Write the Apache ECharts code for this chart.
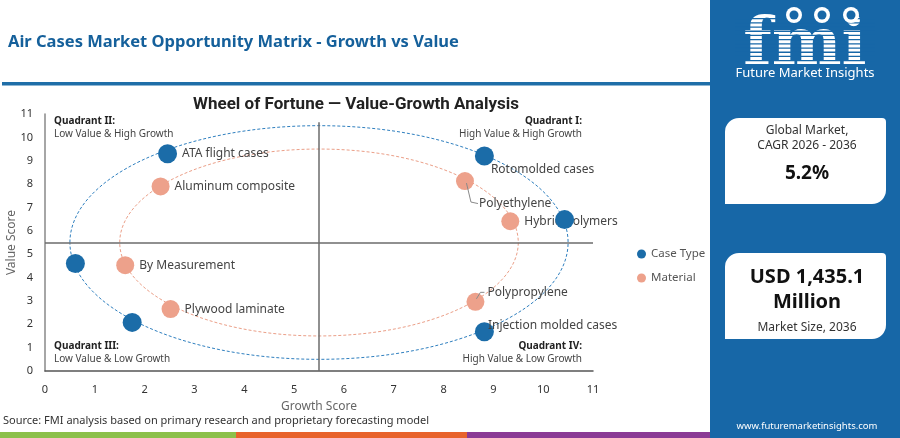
<!DOCTYPE html>
<html>
<head>
<meta charset="utf-8">
<script src="https://cdn.jsdelivr.net/npm/echarts@6/dist/echarts.min.js"></script>
<style>
html,body{margin:0;padding:0;background:#fff;}
#c{width:900px;height:438px;}
</style>
</head>
<body>
<div id="c"></div>
<script>
// ---- data ----
const caseTypeNames  = ['ATA flight cases', 'Rotomolded cases', 'Injection molded cases', '', '', ''];
const caseTypeGrowth = [2.46, 8.82, 8.82, 0.61, 1.75, 10.43];
const caseTypeValue  = [9.30, 9.20, 1.68, 4.60, 2.08, 6.48];

const materialNames  = ['Aluminum composite', 'By Measurement', 'Plywood laminate', 'Polyethylene', 'Hybrid polymers', 'Polypropylene'];
const materialGrowth = [2.32, 1.61, 2.52, 8.43, 9.34, 8.64];
const materialValue  = [7.90, 4.53, 2.65, 8.13, 6.41, 2.96];

const axisTicks = [0, 1, 2, 3, 4, 5, 6, 7, 8, 9, 10, 11];
const quadrantSplit = 5.5;
const ringCenter = [5.5, 5.5];
const ringRadius = { caseType: 5.0, material: 4.0 };

const cagrText = '5.2%';
const marketSizeText = ['USD 1,435.1', 'Million'];

// ---- styles / layout ----
const BLUE = '#1b6ca8';
const SALMON = '#eda18b';
const PANEL = '#1767a7';
const FONT = '"Noto Sans", "Open Sans", sans-serif';

// label nudges (pixels) for crowded labels
const labelShift = {
  'Rotomolded cases': { dx: -8, dy: 14 },
  'Injection molded cases': { dx: -11, dy: -6 },
  'Polyethylene': { dx: 0, dy: 23 },
  'Polypropylene': { dx: -2, dy: -9 }
};
// leader line shapes (pixel offsets from the point) for nudged labels
const leaderShape = {
  'Polyethylene': [[1.5, 2], [6, 21], [13, 22.5]],
  'Polypropylene': [[1, -3], [5, -9.5], [9, -9.5]]
};

function toData(names, gx, vy) {
  return names.map((n, i) => ({
    name: n,
    value: [gx[i], vy[i]],
    label: { show: n !== '' }
  }));
}

const chart = echarts.init(document.getElementById('c'), null, { renderer: 'canvas' });

const labelCommon = {
  show: true,
  position: 'right',
  distance: 5,
  formatter: '{b}',
  color: '#444',
  fontSize: 12,
  fontFamily: FONT
};
const shiftFn = function (p) { const s = labelShift[p.text]; return s ? { dx: s.dx, dy: s.dy } : {}; };

const option = {
  backgroundColor: '#fff',
  animation: false,
  grid: { left: 45, right: 307, top: 114, bottom: 67, containLabel: false, outerBoundsMode: 'none' },
  xAxis: {
    type: 'value', min: axisTicks[0], max: axisTicks[axisTicks.length - 1], interval: 1,
    name: 'Growth Score', nameLocation: 'middle', nameGap: 30, nameMoveOverlap: false,
    nameTextStyle: { color: '#666', fontSize: 12, fontFamily: FONT },
    axisLine: { show: true, lineStyle: { color: '#555', width: 1.5 } },
    axisTick: { show: false },
    splitLine: { show: false },
    axisLabel: { color: '#333', fontSize: 11, margin: 13, fontFamily: FONT }
  },
  yAxis: {
    type: 'value', min: axisTicks[0], max: axisTicks[axisTicks.length - 1], interval: 1,
    name: 'Value Score', nameLocation: 'middle', nameGap: 27, nameMoveOverlap: false,
    nameTextStyle: { color: '#666', fontSize: 12, fontFamily: FONT },
    axisLine: { show: true, lineStyle: { color: '#888', width: 1.5 } },
    axisTick: { show: false },
    splitLine: { show: false },
    axisLabel: { color: '#333', fontSize: 11, margin: 12, fontFamily: FONT }
  },
  legend: {
    orient: 'vertical', left: 632, top: 243, itemGap: 12,
    itemWidth: 9, itemHeight: 9, icon: 'circle',
    textStyle: { color: '#555', fontSize: 11.5, fontFamily: FONT },
    data: ['Case Type', 'Material']
  },
  series: [
    {
      name: 'Case Type', type: 'scatter', symbolSize: 19,
      itemStyle: { color: BLUE, opacity: 1 },
      data: toData(caseTypeNames, caseTypeGrowth, caseTypeValue),
      label: labelCommon,
      labelLayout: shiftFn,
      z: 4,
      markLine: {
        silent: true, symbol: 'none', animation: false,
        label: { show: false },
        lineStyle: { color: '#6b6b6b', width: 1.5, type: 'solid' },
        data: [
          [{ coord: [quadrantSplit, 0] }, { coord: [quadrantSplit, 10.65] }],
          [{ coord: [0, quadrantSplit] }, { coord: [11, quadrantSplit] }]
        ]
      }
    },
    {
      name: 'Material', type: 'scatter', symbolSize: 18,
      itemStyle: { color: SALMON, opacity: 1 },
      data: toData(materialNames, materialGrowth, materialValue),
      label: labelCommon,
      labelLayout: shiftFn,
      z: 3
    }
  ]
};
chart.setOption(option);

// ---- decorations ----
function ring(r, color) {
  const c = chart.convertToPixel({ gridIndex: 0 }, ringCenter);
  const e = chart.convertToPixel({ gridIndex: 0 }, [ringCenter[0] + r, ringCenter[1] + r]);
  return {
    type: 'ellipse', z: 1, silent: true,
    shape: { cx: c[0], cy: c[1], rx: Math.abs(e[0] - c[0]), ry: Math.abs(c[1] - e[1]) },
    style: { fill: 'none', stroke: color, lineWidth: 1, lineDash: [3, 2] }
  };
}

const g = [];
g.push(ring(ringRadius.caseType, '#2f7fbf'));
g.push(ring(ringRadius.material, '#eb9f88'));

// leader lines, anchored to the points through the chart's scales
materialNames.forEach((n, i) => {
  const sh = leaderShape[n];
  if (!sh) return;
  const p = chart.convertToPixel({ gridIndex: 0 }, [materialGrowth[i], materialValue[i]]);
  g.push({ type: 'polyline', z: 20, silent: true,
    shape: { points: sh.map(o => [p[0] + o[0], p[1] + o[1]]) },
    style: { stroke: '#8a8a8a', lineWidth: 1, fill: 'none' } });
});

// header
g.push({ type: 'text', left: 8, top: 34, z: 10, style: { text: 'Air Cases Market Opportunity Matrix - Growth vs Value', fill: '#15609b', font: 'bold 16.5px ' + FONT } });
g.push({ type: 'rect', shape: { x: 2, y: 82, width: 708, height: 3.5 }, style: { fill: '#1f6ea8' }, z: 10 });
g.push({ type: 'text', z: 10, style: { text: 'Wheel of Fortune \u2014 Value-Growth Analysis', x: 356, y: 105, align: 'center', verticalAlign: 'middle', fill: '#222', font: 'bold 17px Roboto, ' + FONT } });

// quadrant notes
function qtext(x, y, title, sub, align) {
  g.push({ type: 'text', z: 10, style: { text: title, x: x, y: y, align: align, verticalAlign: 'middle', fill: '#222', font: 'bold 10px ' + FONT } });
  g.push({ type: 'text', z: 10, style: { text: sub, x: x, y: y + 13, align: align, verticalAlign: 'middle', fill: '#444', font: '10px ' + FONT } });
}
qtext(54, 121, 'Quadrant II:', 'Low Value & High Growth', 'left');
qtext(582, 121, 'Quadrant I:', 'High Value & High Growth', 'right');
qtext(54, 346, 'Quadrant III:', 'Low Value & Low Growth', 'left');
qtext(582, 346, 'Quadrant IV:', 'High Value & Low Growth', 'right');

// source + color bar
g.push({ type: 'text', z: 10, style: { text: 'Source: FMI analysis based on primary research and proprietary forecasting model', x: 3, y: 421, verticalAlign: 'middle', fill: '#333', font: '11px ' + FONT } });
g.push({ type: 'rect', z: 10, shape: { x: 0, y: 432, width: 236, height: 6 }, style: { fill: '#8cc04b' } });
g.push({ type: 'rect', z: 10, shape: { x: 236, y: 432, width: 231, height: 6 }, style: { fill: '#e8632c' } });
g.push({ type: 'rect', z: 10, shape: { x: 467, y: 432, width: 243, height: 6 }, style: { fill: '#8b3a95' } });

// right panel
g.push({ type: 'rect', z: 10, shape: { x: 710, y: 0, width: 190, height: 438 }, style: { fill: PANEL } });
// logo
g.push({ type: 'text', z: 11, style: { text: 'fmi', x: 805, y: 80, align: 'center', verticalAlign: 'bottom', fill: '#fff', font: 'bold 66px "DejaVu Serif", serif' } });
for (let yy = 18; yy < 64; yy += 4.2) {
  g.push({ type: 'rect', z: 12, shape: { x: 735, y: yy, width: 140, height: 1.3 }, style: { fill: PANEL } });
}
[[794, 15], [822, 15], [851, 15]].forEach(p => {
  g.push({ type: 'circle', z: 13, shape: { cx: p[0], cy: p[1], r: 8 }, style: { fill: '#fff' } });
  g.push({ type: 'circle', z: 14, shape: { cx: p[0], cy: p[1], r: 4.5 }, style: { fill: PANEL } });
});
g.push({ type: 'text', z: 11, style: { text: 'Future Market Insights', x: 805, y: 73, align: 'center', verticalAlign: 'middle', fill: '#fff', font: '13px ' + FONT } });

// cards
g.push({ type: 'rect', z: 11, shape: { x: 725, y: 118, width: 161, height: 86, r: [14, 4, 14, 0] }, style: { fill: '#fff' } });
g.push({ type: 'text', z: 12, style: { text: 'Global Market,', x: 807, y: 131, align: 'center', verticalAlign: 'middle', fill: '#333', font: '12px ' + FONT } });
g.push({ type: 'text', z: 12, style: { text: 'CAGR 2026 - 2036', x: 807, y: 146, align: 'center', verticalAlign: 'middle', fill: '#333', font: '12px ' + FONT } });
g.push({ type: 'text', z: 12, style: { text: cagrText, x: 807, y: 174, align: 'center', verticalAlign: 'middle', fill: '#111', font: 'bold 19px ' + FONT } });

g.push({ type: 'rect', z: 11, shape: { x: 725, y: 253, width: 161, height: 86, r: [14, 4, 14, 0] }, style: { fill: '#fff' } });
g.push({ type: 'text', z: 12, style: { text: marketSizeText[0], x: 807, y: 277, align: 'center', verticalAlign: 'middle', fill: '#111', font: 'bold 20px ' + FONT } });
g.push({ type: 'text', z: 12, style: { text: marketSizeText[1], x: 807, y: 302, align: 'center', verticalAlign: 'middle', fill: '#111', font: 'bold 20px ' + FONT } });
g.push({ type: 'text', z: 12, style: { text: 'Market Size, 2036', x: 807, y: 328, align: 'center', verticalAlign: 'middle', fill: '#333', font: '12px ' + FONT } });

g.push({ type: 'text', z: 11, style: { text: 'www.futuremarketinsights.com', x: 807, y: 426, align: 'center', verticalAlign: 'middle', fill: '#fff', font: '9.5px ' + FONT } });

chart.setOption({ graphic: { elements: g } });
</script>
</body>
</html>
